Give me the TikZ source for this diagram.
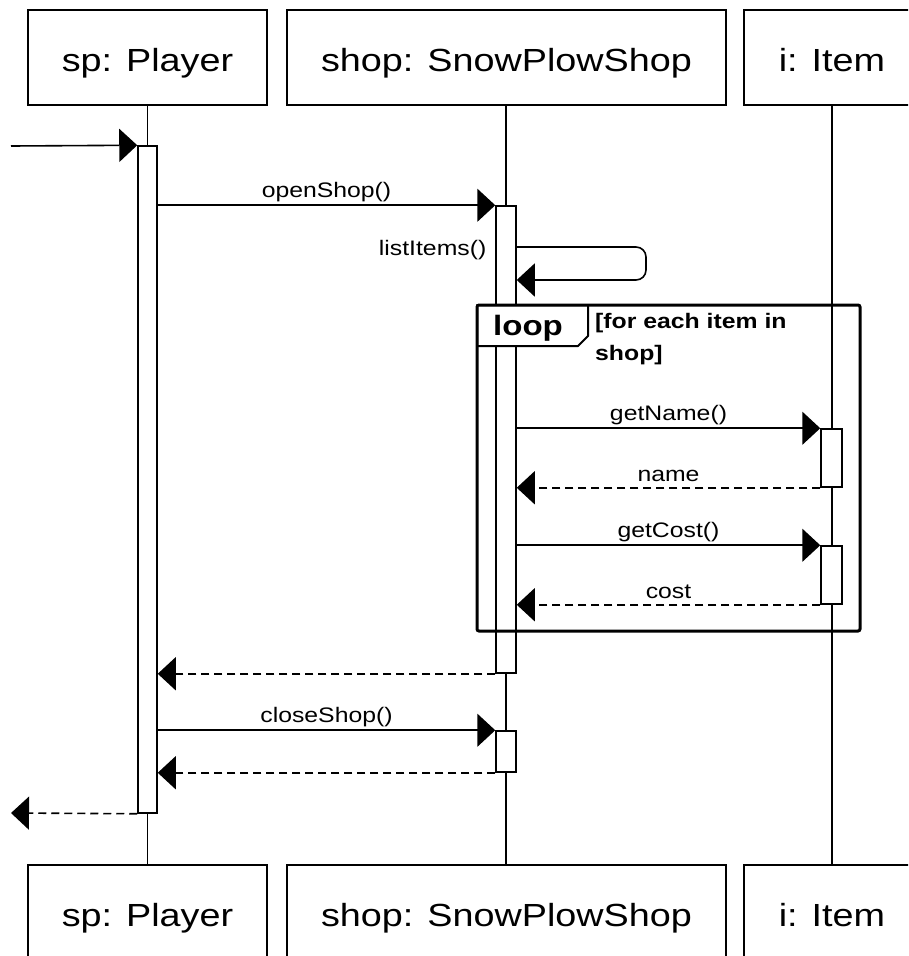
\documentclass[tikz,border=0pt]{standalone}
\usepackage{fontspec}
\setmainfont{Liberation Sans}[FakeStretch=1.18]
\usetikzlibrary{arrows.meta}
\begin{document}
\begin{tikzpicture}[x=1pt,y=-1pt,
  obj/.style={draw, line width=1.6pt, minimum height=95pt, inner sep=0pt,
    font=\fontsize{32}{38}\selectfont, text height=30pt, text depth=3pt},
  life/.style={line width=1.5pt},
  actbox/.style={draw, fill=white, line width=1.5pt, minimum width=20pt, inner sep=0pt},
  tipA/.style={-{Triangle[length=18pt,width=33pt]}},
  msg/.style={line width=1.6pt, tipA},
  ret/.style={line width=1.6pt, tipA, dash pattern=on 8pt off 5pt},
  lbl/.style={font=\fontsize{21}{24}\selectfont, inner sep=2.5pt},
  tagline/.style={draw, fill=white, line width=2pt, line join=round},
  frame/.style={draw, line width=3pt, rounded corners=2pt, inner sep=0pt},
  looptxt/.style={font=\bfseries\fontsize{28}{32}\selectfont, inner sep=0pt},
  cond/.style={font=\bfseries\fontsize{21}{32}\selectfont, inner sep=0pt, align=left}
]
\useasboundingbox (0,0) rectangle (908,956);
\clip (0,0) rectangle (908,956);

% objects
\node[obj, minimum width=239pt] (ptop) at (147.5,57.5) {sp: Player};
\node[obj, minimum width=439pt] (stop) at (506.5,57.5) {shop: SnowPlowShop};
\node[obj, minimum width=176pt] (itop) at (832,57.5) {i: Item};
\node[obj, minimum width=239pt] (pbot) at (147.5,912.5) {sp: Player};
\node[obj, minimum width=439pt] (sbot) at (506.5,912.5) {shop: SnowPlowShop};
\node[obj, minimum width=176pt] (ibot) at (832,912.5) {i: Item};

% lifelines
\draw[life] (ptop.south) -- (pbot.north);
\draw[life] (stop.south -| 506,0) -- (sbot.north -| 506,0);
\draw[life] (itop.south) -- (ibot.north);

% activations
\node[actbox, minimum width=19pt, minimum height=667pt] (pact) at (147.5,479.5) {};
\node[actbox, minimum height=467pt] (sact1) at (506,439.5) {};
\node[actbox, minimum height=41pt] (sact2) at (506,751.5) {};
\node[actbox, minimum width=21pt, minimum height=58pt] (iact1) at (831.5,458) {};
\node[actbox, minimum width=21pt, minimum height=58pt] (iact2) at (831.5,575) {};

% free ends
\coordinate (startpt) at (11,146);
\coordinate (endpt) at (11,813);

% messages
\draw[msg] (startpt) -- (pact.north west);
\draw[msg] (pact.east |- sact1.north west) -- node[lbl, above] (l1) {openShop()} (sact1.north west);
\draw[msg, rounded corners=10pt] (sact1.east |- 0,247) -| (646,280) -- (sact1.east |- 0,280);
\node[lbl, anchor=east] (l2) at (489,250) {listItems()};
\draw[msg] (sact1.east |- iact1.north west) -- node[lbl, above] (l3) {getName()} (iact1.north west);
\draw[ret] (iact1.south west) -- node[lbl, above, yshift=3pt] (l4) {name} (sact1.east |- iact1.south west);
\draw[msg] (sact1.east |- iact2.north west) -- node[lbl, above] (l5) {getCost()} (iact2.north west);
\draw[ret] (iact2.south west) -- node[lbl, above, yshift=3pt] (l6) {cost} (sact1.east |- iact2.south west);
\draw[ret] (sact1.south west) -- (pact.east |- sact1.south west);
\draw[msg] (pact.east |- sact2.north west) -- node[lbl, above] (l7) {closeShop()} (sact2.north west);
\draw[ret] (sact2.south west) -- (pact.east |- sact2.south west);
\draw[ret] (pact.south west) -- (endpt);

% loop fragment
\path[tagline] (477,305) -- (588,305) -- (588,336) -- (578,346) -- (477,346) -- cycle;
\node[frame, minimum width=383pt, minimum height=326pt] (loopframe) at (668.5,468) {};
\node[looptxt] (looplbl) at (528,328) {loop};
\node[cond, anchor=west] (condlbl) at (595,339) {[for each item in\\shop]};
\end{tikzpicture}
\end{document}
